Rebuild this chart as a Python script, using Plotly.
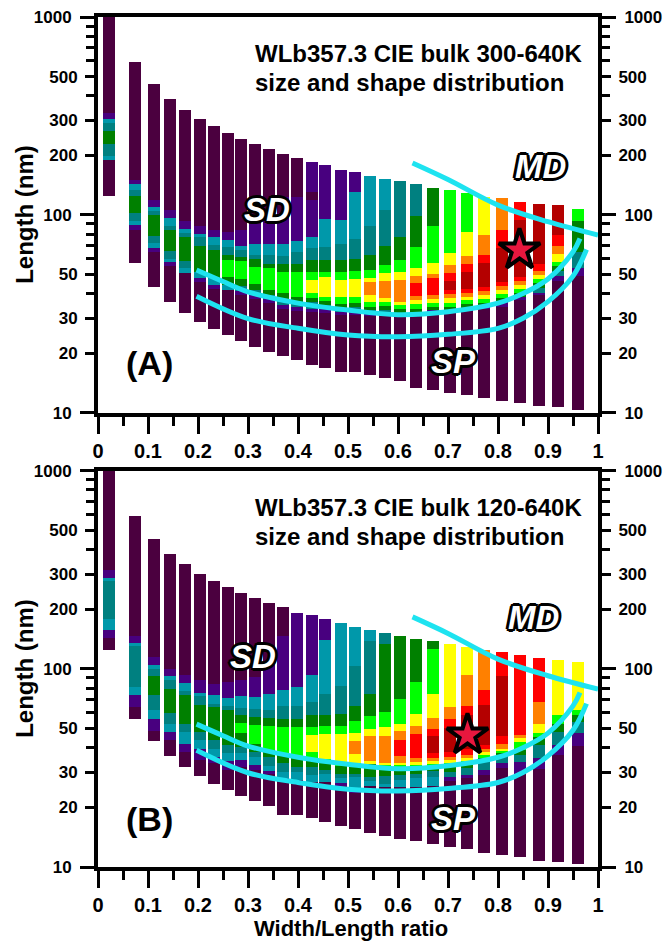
import numpy as np
import plotly.graph_objects as go

FONT = "Liberation Sans, Arial, Helvetica, sans-serif"

# density level colours (low -> high)
LEVEL_COLORS = ["#4b003f", "#48007f", "#0098aa", "#008080", "#008000",
                "#00ff00", "#ffff00", "#ff8000", "#ff0000", "#b40000"]

# column centres (Width/Length ratio)
COL_X = [0.022, 0.074, 0.112, 0.144, 0.174, 0.204, 0.232, 0.260, 0.286, 0.314,
         0.342, 0.370, 0.398, 0.428, 0.454, 0.486, 0.514, 0.544, 0.574, 0.604,
         0.636, 0.670, 0.704, 0.738, 0.772, 0.808, 0.844, 0.882, 0.920, 0.960]
BAR_WIDTH = 0.0235

# Panel A: segment edges (nm, top -> bottom) and level index of each segment
A_EDGES = [
    [1000, 329, 305, 290, 265, 228, 198, 189, 125],
    [590, 150, 143, 134, 124, 102, 93, 89, 84, 57],
    [457, 119, 110, 104, 100, 78, 72, 68, 65, 43],
    [384, 106, 96, 88, 84, 66, 59.5, 57.6, 55.3, 36.4],
    [338, 93, 84.4, 80.6, 77, 58.3, 53.6, 51, 32],
    [304, 87.7, 79.9, 76.9, 69.5, 51.4, 47.9, 45.9, 28.8],
    [281, 83.7, 76.9, 70.3, 66.8, 47.9, 44.2, 42.3, 26.4],
    [259, 82.1, 74.5, 69.0, 62.6, 59.0, 48.5, 44.2, 41.7, 24.7],
    [241, 83.7, 69.5, 66.8, 61.4, 58.5, 47.3, 43.7, 41.4, 39.3, 22.9],
    [228, 90.4, 71.6, 62.6, 59.5, 54.2, 44.6, 41.7, 39.3, 37.4, 21.6],
    [215, 97.7, 71.6, 62.6, 56.7, 53.6, 41.7, 39.3, 37.4, 36.0, 20.3],
    [204, 122.4, 111.9, 101.7, 71.6, 61.9, 56.4, 51.6, 40.1, 37.4, 35.0, 33.6, 19.4],
    [194, 123.3, 73.9, 65.0, 56.7, 51.6, 38.5, 36.4, 34.1, 32.7, 18.5],
    [184, 130.7, 118.7, 76.9, 67.6, 59.0, 51.6, 46.8, 40.1, 38.2, 36.4, 33.6, 32.4, 17.4],
    [178.3, 94.8, 69.0, 59.0, 51.6, 48.6, 38.5, 36.8, 35.0, 33.4, 32.0, 16.8],
    [169.5, 94.0, 71.0, 59.0, 51.6, 46.8, 38.5, 35.4, 33.6, 32.2, 31.1, 16.1],
    [163.7, 130.7, 75.4, 59.7, 52.2, 47.3, 38.5, 35.8, 34.1, 32.8, 31.1, 16.1],
    [156.9, 87.7, 62.6, 52.6, 48.0, 45.9, 39.3, 36.1, 34.3, 33.0, 31.9, 30.7, 15.5],
    [151.4, 105.6, 69.5, 55.7, 51.0, 46.4, 37.8, 36.2, 34.8, 33.0, 31.9, 30.7, 14.9],
    [148, 76.9, 59.0, 51.6, 46.8, 36.4, 35.0, 33.3, 32.0, 30.7, 14.4],
    [142.9, 98.5, 68.4, 53.6, 49.0, 45.4, 38.8, 37.1, 35.4, 33.6, 32.4, 31.1, 13.4],
    [136.9, 87.7, 56.8, 50.2, 48.0, 39.3, 37.5, 36.0, 34.3, 33.0, 31.9, 13.0],
    [133.3, 63.9, 55.7, 51.0, 46.3, 41.7, 39.8, 37.9, 36.0, 34.3, 33.0, 31.9, 12.6],
    [129.4, 81.5, 61.9, 56.4, 51.6, 42.2, 40.4, 38.5, 37.1, 35.4, 33.6, 32.6, 12.3],
    [122.4, 79.0, 62.6, 56.8, 43.3, 41.4, 39.3, 37.5, 36.0, 34.3, 33.3, 11.9],
    [121.0, 83.7, 67.6, 45.9, 43.7, 41.7, 39.8, 38.2, 36.2, 34.3, 11.4],
    [116, 94.0, 48.6, 46.4, 44.2, 42.2, 40.1, 38.3, 37.1, 11.2],
    [113.3, 56.4, 52.0, 49.6, 47.2, 45.0, 42.5, 40.4, 39.3, 10.8],
    [111.9, 79.0, 69.5, 63.4, 57.9, 55.1, 52.2, 49.0, 46.4, 10.7],
    [107.6, 92.9, 65.0, 53.6, 49.2, 10.3],
]
A_LEVELS = [
    [0, 1, 2, 3, 4, 3, 2, 0],
    [0, 1, 2, 3, 4, 3, 2, 1, 0],
    [0, 1, 2, 3, 4, 3, 2, 1, 0],
    [0, 1, 2, 3, 4, 3, 2, 1, 0],
    [0, 1, 2, 3, 4, 3, 2, 0],
    [0, 1, 2, 3, 4, 2, 1, 0],
    [0, 1, 2, 3, 4, 2, 1, 0],
    [0, 1, 2, 3, 4, 5, 4, 2, 0],
    [0, 1, 2, 3, 4, 5, 4, 3, 1, 0],
    [0, 1, 2, 3, 4, 5, 4, 3, 1, 0],
    [0, 1, 2, 3, 4, 5, 4, 3, 1, 0],
    [0, 1, 0, 1, 2, 3, 4, 5, 4, 3, 1, 0],
    [0, 1, 2, 3, 4, 5, 4, 3, 1, 0],
    [1, 0, 1, 2, 3, 4, 5, 6, 5, 4, 3, 1, 0],
    [1, 2, 3, 4, 5, 6, 5, 4, 3, 1, 0],
    [1, 2, 3, 4, 5, 6, 5, 4, 3, 1, 0],
    [1, 2, 3, 4, 5, 6, 5, 4, 3, 1, 0],
    [2, 3, 4, 5, 6, 7, 6, 5, 4, 3, 1, 0],
    [2, 3, 4, 5, 6, 7, 6, 5, 4, 3, 1, 0],
    [3, 4, 5, 6, 7, 6, 5, 4, 1, 0],
    [3, 4, 5, 6, 7, 8, 7, 6, 5, 4, 1, 0],
    [4, 5, 6, 7, 8, 7, 6, 5, 4, 1, 0],
    [5, 6, 7, 8, 9, 8, 7, 6, 5, 4, 1, 0],
    [5, 6, 7, 8, 9, 8, 7, 6, 5, 4, 1, 0],
    [6, 7, 8, 9, 8, 7, 6, 5, 4, 1, 0],
    [7, 8, 9, 8, 7, 6, 5, 4, 1, 0],
    [8, 9, 8, 7, 6, 5, 4, 1, 0],
    [9, 8, 7, 6, 5, 4, 3, 1, 0],
    [9, 8, 7, 6, 5, 4, 3, 1, 0],
    [5, 4, 3, 1, 0],
]

# Panel B
B_EDGES = [
    [1000, 315, 289, 277, 178, 157, 142.6, 124.3],
    [590, 147, 135.7, 131, 81.1, 74.2, 64.3, 56.0],
    [452, 114.6, 104.3, 99.7, 91.7, 74.2, 61.9, 56.0, 48.6, 43.2],
    [382, 100.4, 92.3, 87.7, 79.4, 60.0, 52.4, 48.0, 43.7, 36.2],
    [338, 92.9, 84.4, 77.1, 74.2, 52.4, 48.0, 42.0, 38.2, 32.0],
    [302.6, 87.7, 75.3, 73.1, 66.0, 48.0, 43.7, 39.6, 34.6, 28.8],
    [277, 83.4, 73.6, 66.8, 64.3, 43.7, 39.6, 36.0, 33.3, 26.1],
    [259, 86, 71.3, 65, 61.9, 41.2, 37.4, 34.1, 30.7, 24.4],
    [242, 87.7, 73.1, 63.5, 58.8, 53.4, 47.6, 40.4, 37.4, 34.6, 32.0, 22.9],
    [228.6, 91.2, 72.3, 62.6, 57.2, 52.0, 42.0, 38.2, 36.0, 32.6, 30.7, 21.6],
    [216, 106, 74.5, 61.9, 56.7, 51.4, 38.8, 36.0, 32.4, 30.4, 29.4, 20.3],
    [206, 147, 78.1, 65.3, 55.7, 51.0, 37.4, 33.5, 30.1, 28.0, 27.0, 18.3],
    [192, 80.6, 65.3, 55.7, 51.0, 36.4, 32.0, 30.1, 27.4, 18.4],
    [186, 92.9, 68.2, 58.3, 51.0, 46.3, 38.2, 35.5, 32.0, 29.0, 26.9, 17.6],
    [178, 139.7, 74.5, 58.3, 51.4, 46.8, 34.9, 33.5, 30.7, 29.4, 26.9, 16.8],
    [169.5, 82.2, 59.0, 51.4, 46.8, 33.3, 32.5, 29.4, 28.0, 26.5, 25.5, 16.1],
    [162, 103, 65.3, 54.6, 47.4, 43.3, 37.1, 33.3, 32.3, 29.4, 28.3, 24.0, 23.5, 15.5],
    [157, 138, 75.1, 57.7, 50.0, 45.7, 34.3, 33.0, 28.5, 27.3, 25.5, 14.9],
    [151, 133.3, 60.3, 50.6, 45.9, 33.5, 32.6, 31.3, 28.7, 26.2, 25.4, 14.3],
    [147, 70.3, 53.0, 48.5, 44.0, 36.4, 33.5, 32.6, 31.6, 29.0, 27.6, 25.3, 13.9],
    [141.3, 86, 59.0, 51.4, 46.8, 35.3, 33.8, 32.9, 32.0, 29.6, 28.2, 25.3, 13.5],
    [138, 125.8, 75.1, 56.8, 50.0, 45.7, 37.6, 35.5, 34.1, 33.0, 32.0, 30.4, 28.5, 25.7, 13.0],
    [132.8, 63.9, 55.7, 50.3, 37.9, 36.0, 34.6, 33.3, 32.3, 30.3, 28.5, 27.3, 12.6],
    [129.4, 92.9, 65.0, 58.3, 39.6, 36.9, 35.5, 34.1, 33.0, 31.6, 29.2, 28.0, 12.3],
    [124.3, 78.1, 65.6, 41.2, 39.6, 37.9, 36.9, 35.3, 34.0, 30.7, 29.2, 11.8],
    [122, 92.3, 45.7, 41.6, 39.6, 38.5, 37.4, 36.0, 33.3, 31.6, 11.5],
    [117, 46.3, 44.6, 42.5, 38.8, 36.8, 33.8, 29.6, 11.2],
    [113.3, 68.2, 52.4, 47.4, 45.4, 41.2, 35.5, 31.3, 10.7],
    [110.7, 58.3, 53.0, 48.0, 41.2, 36.8, 10.6],
    [108.5, 61.9, 58.3, 54.0, 47.2, 40.9, 10.4],
]
B_LEVELS = [
    [0, 1, 2, 3, 2, 1, 0],
    [0, 1, 2, 3, 2, 1, 0],
    [0, 1, 2, 3, 4, 3, 2, 1, 0],
    [0, 1, 2, 3, 4, 3, 2, 1, 0],
    [0, 1, 2, 3, 4, 3, 2, 1, 0],
    [0, 1, 2, 3, 4, 3, 2, 1, 0],
    [0, 1, 2, 3, 4, 3, 2, 1, 0],
    [0, 1, 2, 3, 4, 3, 2, 1, 0],
    [0, 1, 2, 3, 4, 5, 4, 3, 2, 1, 0],
    [0, 1, 2, 3, 4, 5, 4, 3, 2, 1, 0],
    [0, 1, 2, 3, 4, 5, 4, 3, 2, 1, 0],
    [0, 1, 2, 3, 4, 5, 4, 3, 2, 1, 0],
    [1, 2, 3, 4, 5, 4, 3, 2, 0],
    [1, 2, 3, 4, 5, 6, 5, 4, 3, 2, 0],
    [1, 2, 3, 4, 5, 6, 5, 4, 3, 2, 0],
    [2, 3, 4, 5, 6, 5, 4, 3, 2, 1, 0],
    [2, 3, 4, 5, 6, 7, 6, 5, 4, 3, 2, 1, 0],
    [2, 3, 4, 5, 6, 7, 6, 4, 3, 2, 0],
    [3, 4, 5, 6, 7, 6, 5, 4, 3, 2, 0],
    [4, 5, 6, 7, 8, 7, 6, 5, 4, 3, 2, 0],
    [4, 5, 6, 7, 8, 7, 6, 5, 4, 3, 2, 0],
    [4, 5, 6, 7, 8, 9, 8, 7, 6, 5, 4, 3, 2, 0],
    [6, 7, 8, 9, 8, 7, 6, 5, 4, 3, 1, 0],
    [6, 7, 8, 9, 8, 7, 6, 5, 4, 3, 1, 0],
    [7, 8, 9, 8, 7, 6, 5, 4, 3, 1, 0],
    [8, 9, 8, 7, 6, 5, 4, 3, 1, 0],
    [8, 7, 6, 5, 4, 3, 1, 0],
    [8, 7, 6, 5, 4, 3, 1, 0],
    [6, 5, 4, 3, 1, 0],
    [6, 5, 4, 3, 1, 0],
]

# cyan guide curves (same in both panels)
UPPER_X = [0.197, 0.25, 0.30, 0.40, 0.50, 0.60, 0.70, 0.80, 0.85, 0.90, 0.95, 0.964]
UPPER_Y = [52.6, 46.0, 40.8, 35.8, 33.0, 31.3, 32.4, 35.8, 40.0, 47.4, 65.0, 76.0]
LOWER_X = [0.197, 0.30, 0.40, 0.50, 0.60, 0.70, 0.80, 0.85, 0.90, 0.95, 0.977]
LOWER_Y = [38.8, 29.9, 26.7, 24.7, 24.2, 24.9, 26.7, 30.0, 36.4, 49.0, 66.8]
MD_X = [0.629, 0.70, 0.80, 0.90, 1.0]
MD_Y = [183, 151, 112, 92.3, 79]

STAR_A = (0.843, 66.3)
STAR_B = (0.739, 46.3)

TITLE_A = ["WLb357.3 CIE bulk 300-640K", "size and shape distribution"]
TITLE_B = ["WLb357.3 CIE bulk 120-640K", "size and shape distribution"]

X_TICKS = [0, 0.1, 0.2, 0.3, 0.4, 0.5, 0.6, 0.7, 0.8, 0.9, 1.0]
X_TICKTEXT = ["0", "0.1", "0.2", "0.3", "0.4", "0.5", "0.6", "0.7", "0.8", "0.9", "1"]
X_MINOR = [0.05, 0.15, 0.25, 0.35, 0.45, 0.55, 0.65, 0.75, 0.85, 0.95]
Y_DECADES = [10, 100, 1000]
Y_LABELED = [20, 30, 50, 200, 300, 500]
Y_MINOR = [40, 60, 70, 80, 90, 400, 600, 700, 800, 900]

CYAN = "#1ee3f0"

fig = go.Figure()


def add_columns(edges_list, levels_list, xa, ya):
    for lev, color in enumerate(LEVEL_COLORS):
        xs, bases, heights = [], [], []
        for x, edges, levels in zip(COL_X, edges_list, levels_list):
            for i, l in enumerate(levels):
                if l == lev and i + 1 < len(edges):
                    top, bot = edges[i], edges[i + 1]
                    xs.append(x)
                    bases.append(bot)
                    heights.append(top - bot)
        if xs:
            fig.add_trace(go.Bar(x=xs, y=heights, base=bases, width=BAR_WIDTH,
                                 marker=dict(color=color, line=dict(width=0)),
                                 xaxis=xa, yaxis=ya, hoverinfo="skip",
                                 showlegend=False))


def add_overlays(star, xa, ya):
    for cx, cy in [(UPPER_X, UPPER_Y), (LOWER_X, LOWER_Y), (MD_X, MD_Y)]:
        fig.add_trace(go.Scatter(x=cx, y=cy, mode="lines",
                                 line=dict(color=CYAN, width=5, shape="spline"),
                                 xaxis=xa, yaxis=ya, hoverinfo="skip",
                                 showlegend=False))
    fig.add_trace(go.Scatter(x=[star[0]], y=[star[1]], mode="markers",
                             marker=dict(symbol="star", size=31, color="#e8173e",
                                         line=dict(color="black", width=4)),
                             xaxis=xa, yaxis=ya, hoverinfo="skip",
                             showlegend=False))


add_columns(A_EDGES, A_LEVELS, "x", "y")
add_overlays(STAR_A, "x", "y")
add_columns(B_EDGES, B_LEVELS, "x2", "y5")
add_overlays(STAR_B, "x2", "y5")

# invisible traces so the overlay axes are drawn
for xa, ya in [("x", "y2"), ("x", "y3"), ("x", "y4"),
               ("x2", "y6"), ("x2", "y7"), ("x2", "y8")]:
    fig.add_trace(go.Scatter(x=[0.5], y=[50], mode="markers",
                             marker=dict(opacity=0), xaxis=xa, yaxis=ya,
                             hoverinfo="skip", showlegend=False))

ytick_font = dict(family=FONT, size=17, color="black", weight="bold")
xtick_font = dict(family=FONT, size=20, color="black", weight="bold")


def y_main(side, overlay=None, domain=None, anchor="x"):
    d = dict(type="log", range=[1, 3], anchor=anchor, side=side,
             automargin=False,
             tickmode="array", tickvals=Y_LABELED,
             ticktext=[str(v) for v in Y_LABELED],
             ticks="outside", ticklen=9, tickwidth=3, tickcolor="black",
             showline=True, linewidth=4, linecolor="black",
             showgrid=False, zeroline=False, tickfont=ytick_font,
             ticklabelstandoff=4,
             minor=dict(tickmode="array", tickvals=Y_MINOR, ticks="outside",
                        ticklen=8, tickwidth=3, tickcolor="black",
                        showgrid=False))
    if overlay:
        d["overlaying"] = overlay
    if domain:
        d["domain"] = domain
    return d


def y_dec(side, overlay, anchor="x"):
    return dict(type="log", range=[1, 3], anchor=anchor, side=side,
                automargin=False,
                overlaying=overlay, tickmode="array", tickvals=Y_DECADES,
                ticktext=[str(v) for v in Y_DECADES],
                ticks="outside", ticklen=17, tickwidth=3, tickcolor="black",
                showline=False, showgrid=False, zeroline=False,
                tickfont=ytick_font, ticklabelstandoff=5)


def x_axis(anchor):
    return dict(range=[0, 1], domain=[0, 1], anchor=anchor,
                automargin=False,
                tickmode="array", tickvals=X_TICKS, ticktext=X_TICKTEXT,
                ticks="outside", ticklen=17, tickwidth=3, tickcolor="black",
                showline=True, linewidth=4, linecolor="black", mirror=True,
                showgrid=False, zeroline=False, tickfont=xtick_font,
                ticklabelstandoff=0,
                minor=dict(tickmode="array", tickvals=X_MINOR, ticks="outside",
                           ticklen=9, tickwidth=3, tickcolor="black",
                           showgrid=False))


DOM_A = [0.5345, 1.0]
DOM_B = [0.0, 0.4662]

OUTLINE = ", ".join(f"{dx}px {dy}px 0 #000" for dx, dy in
                    [(-2, -2), (2, -2), (-2, 2), (2, 2), (0, 3), (0, -3),
                     (3, 0), (-3, 0), (-1, 2), (1, -2), (2, 1), (-2, -1)])


def region_label(text, x, y, xa, ya):
    return dict(text=text, x=x, y=np.log10(y), xref=xa, yref=ya,
                showarrow=False, xanchor="center", yanchor="middle",
                font=dict(family=FONT, size=33, color="white", weight="bold",
                          style="italic", shadow=OUTLINE))


def title_lines(lines, xa, ya):
    out = []
    for text, lv in zip(lines, [652, 466]):
        out.append(dict(text=text, x=0.309, y=np.log10(lv), xref=xa, yref=ya,
                        showarrow=False, xanchor="left", yanchor="middle",
                        font=dict(family=FONT, size=24, color="black",
                                  weight="bold")))
    return out


annotations = []
annotations += title_lines(TITLE_A, "x", "y")
annotations += title_lines(TITLE_B, "x2", "y5")
annotations += [
    region_label("SD", 0.337, 107, "x", "y"),
    region_label("SP", 0.711, 18.1, "x", "y"),
    region_label("MD", 0.884, 176, "x", "y"),
    region_label("SD", 0.309, 115, "x2", "y5"),
    region_label("SP", 0.711, 17.5, "x2", "y5"),
    region_label("MD", 0.870, 182, "x2", "y5"),
    dict(text="(A)", x=0.102, y=np.log10(17.9), xref="x", yref="y",
         showarrow=False, xanchor="center", yanchor="middle",
         font=dict(family=FONT, size=34, color="black", weight="bold")),
    dict(text="(B)", x=0.102, y=np.log10(17.5), xref="x2", yref="y5",
         showarrow=False, xanchor="center", yanchor="middle",
         font=dict(family=FONT, size=34, color="black", weight="bold")),
    dict(text="Length (nm)", x=-0.146, y=0.5, xref="paper", yref="y domain",
         showarrow=False, textangle=-90, xanchor="center", yanchor="middle",
         font=dict(family=FONT, size=24, color="black", weight="bold")),
    dict(text="Length (nm)", x=-0.146, y=0.5, xref="paper", yref="y5 domain",
         showarrow=False, textangle=-90, xanchor="center", yanchor="middle",
         font=dict(family=FONT, size=24, color="black", weight="bold")),
    dict(text="Width/Length ratio", x=0.506, y=-0.0718, xref="paper",
         yref="paper", showarrow=False, xanchor="center", yanchor="middle",
         font=dict(family=FONT, size=22, color="black", weight="bold")),
]

fig.update_layout(
    width=667, height=946,
    autosize=False,
    margin=dict(l=98, r=69, t=17, b=79, pad=0, autoexpand=False),
    paper_bgcolor="white", plot_bgcolor="white",
    barmode="overlay", bargap=0,
    showlegend=False,
    hovermode=False,
    font=dict(family=FONT, color="black"),
    xaxis=x_axis("y"),
    xaxis2=x_axis("y5"),
    yaxis=y_main("left", domain=DOM_A, anchor="x"),
    yaxis2=y_dec("left", "y", anchor="x"),
    yaxis3=y_main("right", overlay="y", anchor="x"),
    yaxis4=y_dec("right", "y", anchor="x"),
    yaxis5=y_main("left", domain=DOM_B, anchor="x2"),
    yaxis6=y_dec("left", "y5", anchor="x2"),
    yaxis7=y_main("right", overlay="y5", anchor="x2"),
    yaxis8=y_dec("right", "y5", anchor="x2"),
    annotations=annotations,
)

fig.write_html(
    "out.html",
    config={"displayModeBar": False, "staticPlot": True},
    post_script="document.body.style.margin='0px';"
                "document.body.style.padding='0px';"
                "document.documentElement.style.overflow='hidden';",
)
